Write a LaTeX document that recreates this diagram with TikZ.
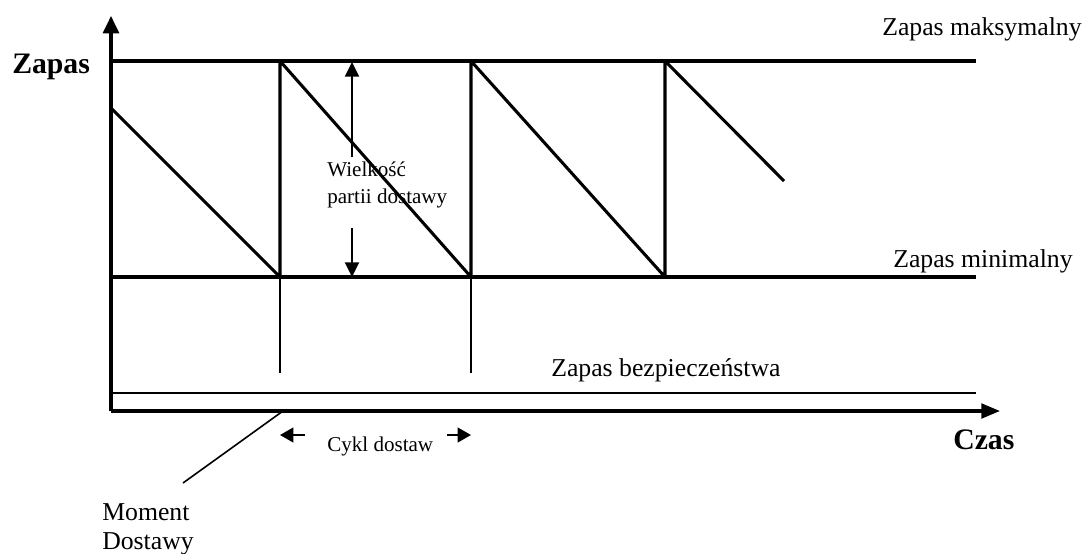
\documentclass[tikz,border=0pt]{standalone}
\usepackage{fontspec}
\setmainfont{Liberation Serif}
\usetikzlibrary{arrows.meta}
\tikzset{
  heavy/.style={line width=2.3pt},
  medium/.style={line width=1.6pt},
  light/.style={line width=1.2pt},
  lbl/.style={inner sep=0pt, anchor=base west, font=\fontsize{19.3}{23}\selectfont},
  small/.style={inner sep=0pt, anchor=base west, font=\fontsize{15.8}{19}\selectfont},
  big/.style={inner sep=0pt, anchor=base west, font=\fontsize{22.3}{26}\selectfont\bfseries},
}
\begin{document}
\begin{tikzpicture}[x=0.75pt,y=-0.75pt]
\useasboundingbox (0,0) rectangle (1087,553);
% axes
\coordinate (O) at (111,411);
\coordinate (ytip) at (111,16);
\coordinate (xtip) at (1000,411);
\draw[heavy,-{Triangle[length=13pt,width=12pt]}] (O) -- (ytip);
\draw[heavy,-{Triangle[length=14pt,width=11pt]}] (O) -- (xtip);
% level lines
\coordinate (maxL) at (111,61);  \coordinate (maxR) at (976,61);
\coordinate (minL) at (111,277); \coordinate (minR) at (976,277);
\coordinate (safL) at (111,393); \coordinate (safR) at (976,393);
\draw[heavy] (maxL) -- (maxR);
\draw[heavy] (minL) -- (minR);
\draw[medium] (safL) -- (safR);
% sawtooth of the stock level
\coordinate (s0) at (111,108);
\coordinate (b1) at (280,277); \coordinate (t1) at (280,61);
\coordinate (b2) at (471,277); \coordinate (t2) at (471,61);
\coordinate (b3) at (665,277); \coordinate (t3) at (665,61);
\coordinate (s4) at (784,181);
\draw[heavy,line join=bevel] (s0) -- (b1) -- (t1) -- (b2) -- (t2) -- (b3) -- (t3) -- (s4);
% delivery moments
\coordinate (d1) at (280,373);
\coordinate (d2) at (471,373);
\draw[medium] (b1) -- (d1);
\draw[medium] (b2) -- (d2);
% batch size arrows
\coordinate (wA) at (352,157); \coordinate (wAt) at (352,62);
\coordinate (wB) at (352,228); \coordinate (wBt) at (352,277);
\draw[medium,-{Triangle[length=11pt,width=10.5pt]}] (wA) -- (wAt);
\draw[medium,-{Triangle[length=11pt,width=10.5pt]}] (wB) -- (wBt);
\node[small] (w1) at (327,176) {Wielkość};
\node[small] (w2) at (327,203) {partii dostawy};
% delivery cycle
\coordinate (cL) at (305,435); \coordinate (cLt) at (280,435);
\coordinate (cR) at (447,435); \coordinate (cRt) at (471,435);
\draw[medium,-{Triangle[length=10pt,width=11pt]}] (cL) -- (cLt);
\draw[medium,-{Triangle[length=10pt,width=11pt]}] (cR) -- (cRt);
\node[small] (cykl) at (327,451) {Cykl dostaw};
% delivery moment pointer
\coordinate (mA) at (283,411);
\coordinate (mB) at (183,483);
\draw[light] (mA) -- (mB);
\node[lbl] (m1) at (102,520) {Moment};
\node[lbl] (m2) at (102,549) {Dostawy};
% labels
\node[big] (zapas) at (12,73) {Zapas};
\node[big] (czas) at (953,449) {Czas};
\node[lbl] (zmax) at (882,35) {Zapas maksymalny};
\node[lbl] (zmin) at (893,267) {Zapas minimalny};
\node[lbl] (zbez) at (551,376) {Zapas bezpieczeństwa};
\end{tikzpicture}
\end{document}
